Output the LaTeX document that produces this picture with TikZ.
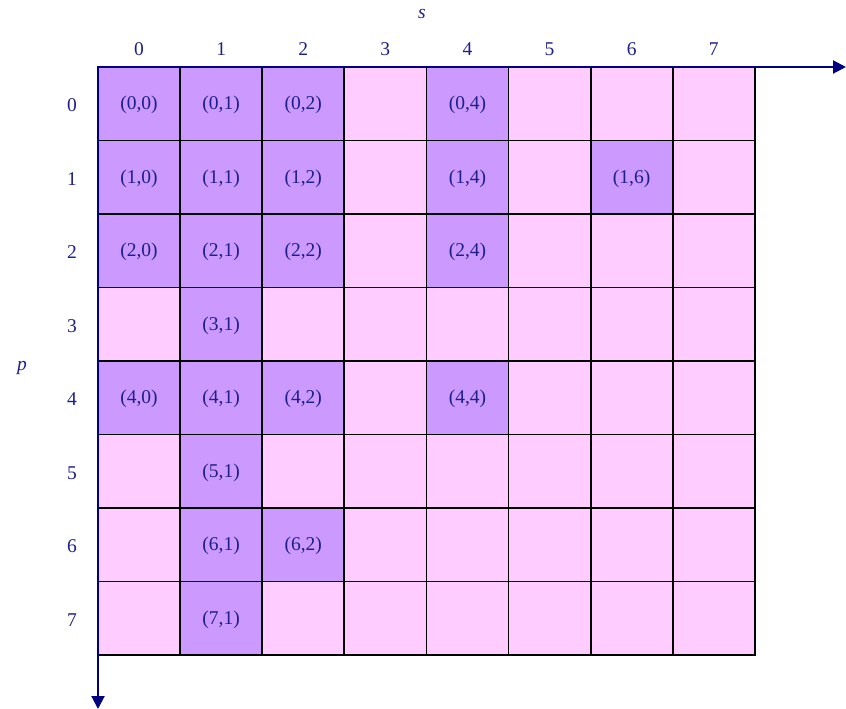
\documentclass[tikz,border=0pt]{standalone}
\usepackage{fontspec}
\setmainfont{Liberation Serif}
\usepackage{tikz}
\usetikzlibrary{arrows.meta}
\usepackage{xcolor}
\definecolor{axisblue}{RGB}{0,0,128}
\definecolor{labelblue}{RGB}{30,30,140}
\definecolor{cellpink}{RGB}{255,204,255}
\definecolor{cellpurple}{RGB}{204,153,255}

\begin{document}
\begin{tikzpicture}[x=1pt,y=-1pt,>={Triangle[length=13pt,width=13pt]},
  font=\fontsize{19.5}{22}\selectfont,
  cell/.style={draw=black,line width=1.8pt,minimum width=82.1pt,minimum height=73.5pt,inner sep=0pt,outer sep=0pt},
  lbl/.style={text=labelblue,inner sep=0pt}]
\useasboundingbox (0,0) rectangle (846,709);
% all cells
\foreach \r in {0,...,7}
  \foreach \c in {0,...,7}
    \node[cell,fill=cellpink] (c\r\c) at ({98+82.1*(\c+0.5)},{67+73.5*(\r+0.5)}) {};
% non-zero entries
\foreach \r/\c in {0/0,0/1,0/2,0/4,1/0,1/1,1/2,1/4,1/6,2/0,2/1,2/2,2/4,3/1,4/0,4/1,4/2,4/4,5/1,6/1,6/2,7/1}
  \node[cell,fill=cellpurple] (c\r\c) at ({98+82.1*(\c+0.5)},{67+73.5*(\r+0.5)}) {};
\foreach \r/\c in {0/0,0/1,0/2,0/4,1/0,1/1,1/2,1/4,1/6,2/0,2/1,2/2,2/4,3/1,4/0,4/1,4/2,4/4,5/1,6/1,6/2,7/1}
  \node[lbl] (e\r\c) at ([yshift=-1.5pt]c\r\c.center) {(\r,\c)};
% indices
\foreach \k in {0,...,7} {
  \node[lbl] (col\k) at ({98+82.1*(\k+0.5)},49) {\k};
  \node[lbl] (row\k) at (72,{67+73.5*(\k+0.5)+1.5}) {\k};
}
\coordinate (o) at (c00.north west);
\coordinate (send) at (846,67);
\coordinate (pend) at (98,709);
\draw[->,axisblue,line width=2pt] (o) -- (send);
\draw[->,axisblue,line width=2pt] (o) -- (pend);
\node[lbl] (s) at (422,14) {\textit{s}};
\node[lbl] (p) at (22,368) {\textit{p}};
\end{tikzpicture}
\end{document}
